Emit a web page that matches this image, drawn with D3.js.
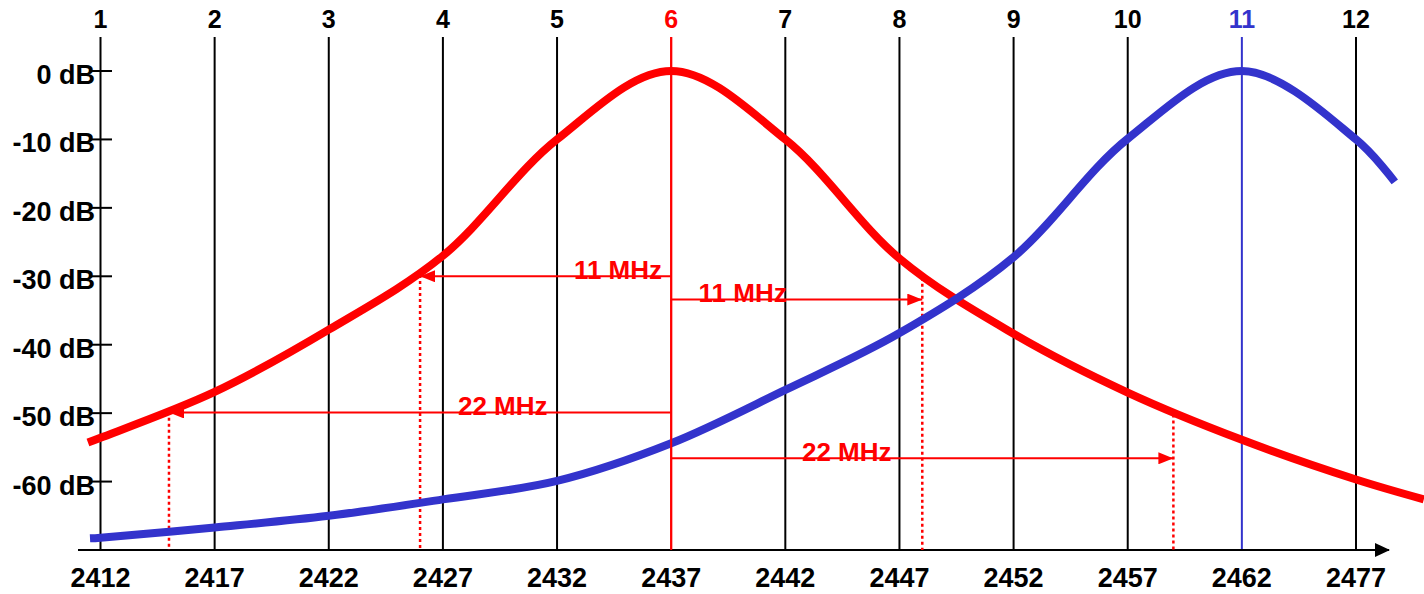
<!DOCTYPE html>
<html>
<head>
<meta charset="utf-8">
<script src="https://cdn.jsdelivr.net/npm/d3@7"></script>
<style>
  html, body { margin: 0; padding: 0; background: #fff; }
  svg { display: block; }
  text { font-family: "Liberation Sans", Arial, sans-serif; font-weight: bold; }
</style>
</head>
<body>
<svg id="chart" width="1424" height="594"></svg>
<script>
// ---- data ----
const channels = [1, 2, 3, 4, 5, 6, 7, 8, 9, 10, 11, 12];
const channelFreqs = [2412, 2417, 2422, 2427, 2432, 2437, 2442, 2447, 2452, 2457, 2462, 2467];
const freqLabels = ["2412", "2417", "2422", "2427", "2432", "2437", "2442", "2447", "2452", "2457", "2462", "2477"];
const dbTicks = [0, -10, -20, -30, -40, -50, -60];
const dbLabels = ["0 dB", "-10 dB", "-20 dB", "-30 dB", "-40 dB", "-50 dB", "-60 dB"];

// channel 6 spectrum (red)
const redFreq = [2411.45, 2412, 2417, 2422, 2427, 2432, 2437, 2442, 2447, 2452, 2457, 2462, 2467, 2469.97];
const redDb   = [-54.3, -53.6, -46.9, -37.8, -27.0, -10.0, 0, -10.0, -27.4, -38.4, -47.0, -53.9, -59.7, -62.6];

// channel 11 spectrum (blue)
const blueFreq = [2411.54, 2412, 2417, 2422, 2427, 2432, 2437, 2442, 2447, 2452, 2457, 2462, 2467, 2468.7];
const blueDb   = [-68.3, -68.2, -66.7, -65.0, -62.6, -59.9, -54.4, -46.6, -38.3, -27.2, -9.9, 0, -10.0, -16.2];

// bandwidth annotations
const arrowLabels = ["11 MHz", "11 MHz", "22 MHz", "22 MHz"];
const arrowFrom   = [2437, 2437, 2437, 2437];
const arrowTo     = [2426, 2448, 2415, 2459];
const arrowDb     = [-30.0, -33.4, -49.9, -56.6];
const dottedTopDb = [-29.8, -30.2, -49.8, -50.2];
const labelFreq   = [2436.6, 2438.2, 2427.66, 2442.73];
const labelAnchor = ["end", "start", "start", "start"];

const RED = "#ff0000", BLUE = "#3333cc", BLACK = "#000000";

// ---- scales ----
const svg = d3.select("#chart");
const x = d3.scaleLinear().domain([2412, 2467]).range([100.5, 1356]);
const y = d3.scaleLinear().domain([-70, 0]).range([550, 71]);
const chColor = ch => ch === 6 ? RED : (ch === 11 ? BLUE : BLACK);

// arrow markers
const defs = svg.append("defs");
defs.append("marker")
  .attr("id", "head").attr("markerUnits", "userSpaceOnUse")
  .attr("viewBox", "0 0 15 12").attr("refX", 15).attr("refY", 6)
  .attr("markerWidth", 15).attr("markerHeight", 12).attr("orient", "auto")
  .append("path").attr("d", "M0,0L15,6L0,12Z").attr("fill", RED);
defs.append("marker")
  .attr("id", "axhead").attr("markerUnits", "userSpaceOnUse")
  .attr("viewBox", "0 0 15 14").attr("refX", 14).attr("refY", 7)
  .attr("markerWidth", 15).attr("markerHeight", 14).attr("orient", "auto")
  .append("path").attr("d", "M0,0L15,7L0,14Z").attr("fill", BLACK);

// channel vertical lines
svg.append("g").selectAll("line").data(channels).join("line")
  .attr("x1", (d, i) => x(channelFreqs[i])).attr("x2", (d, i) => x(channelFreqs[i]))
  .attr("y1", 37).attr("y2", y(-70))
  .attr("stroke", d => chColor(d)).attr("stroke-width", 2);

// channel labels on top
svg.append("g").selectAll("text").data(channels).join("text")
  .attr("x", (d, i) => x(channelFreqs[i])).attr("y", 28)
  .attr("text-anchor", "middle").attr("font-size", 25)
  .attr("fill", d => chColor(d)).text(d => d);

// y ticks and labels
svg.append("g").selectAll("line").data(dbTicks).join("line")
  .attr("x1", 89).attr("x2", 112)
  .attr("y1", d => y(d)).attr("y2", d => y(d))
  .attr("stroke", BLACK).attr("stroke-width", 2);
svg.append("g").selectAll("text").data(dbTicks).join("text")
  .attr("x", 95).attr("y", d => y(d) + 13)
  .attr("text-anchor", "end").attr("font-size", 27)
  .attr("fill", BLACK).text((d, i) => dbLabels[i]);

// x axis with arrow
svg.append("line")
  .attr("x1", 78).attr("x2", 1389).attr("y1", y(-70)).attr("y2", y(-70))
  .attr("stroke", BLACK).attr("stroke-width", 2)
  .attr("marker-end", "url(#axhead)");
svg.append("g").selectAll("text").data(freqLabels).join("text")
  .attr("x", (d, i) => x(channelFreqs[i])).attr("y", 587)
  .attr("text-anchor", "middle").attr("font-size", 27)
  .attr("fill", BLACK).text(d => d);

// dotted drop lines
svg.append("g").selectAll("line").data(arrowTo).join("line")
  .attr("x1", d => x(d)).attr("x2", d => x(d))
  .attr("y1", (d, i) => y(dottedTopDb[i])).attr("y2", y(-70))
  .attr("stroke", RED).attr("stroke-width", 2.5).attr("stroke-dasharray", "3,3");

// spectrum curves
const line = d3.line().curve(d3.curveCatmullRom.alpha(0.5)).x(d => x(d[0])).y(d => y(d[1]));
svg.append("path").datum(d3.zip(redFreq, redDb)).attr("d", line)
  .attr("fill", "none").attr("stroke", RED).attr("stroke-width", 8);
svg.append("path").datum(d3.zip(blueFreq, blueDb)).attr("d", line)
  .attr("fill", "none").attr("stroke", BLUE).attr("stroke-width", 8);

// red centre line of channel 6 redrawn over curves
svg.append("line")
  .attr("x1", x(2437)).attr("x2", x(2437)).attr("y1", 37).attr("y2", y(-70))
  .attr("stroke", RED).attr("stroke-width", 2);

// bandwidth arrows
svg.append("g").selectAll("line").data(arrowTo).join("line")
  .attr("x1", (d, i) => x(arrowFrom[i])).attr("x2", d => x(d))
  .attr("y1", (d, i) => y(arrowDb[i])).attr("y2", (d, i) => y(arrowDb[i]))
  .attr("stroke", RED).attr("stroke-width", 2)
  .attr("marker-end", "url(#head)");
svg.append("g").selectAll("text").data(arrowLabels).join("text")
  .attr("x", (d, i) => x(labelFreq[i])).attr("y", (d, i) => y(arrowDb[i]) + 2.5)
  .attr("text-anchor", (d, i) => labelAnchor[i]).attr("font-size", 26)
  .attr("fill", RED).text(d => d);
</script>
</body>
</html>
